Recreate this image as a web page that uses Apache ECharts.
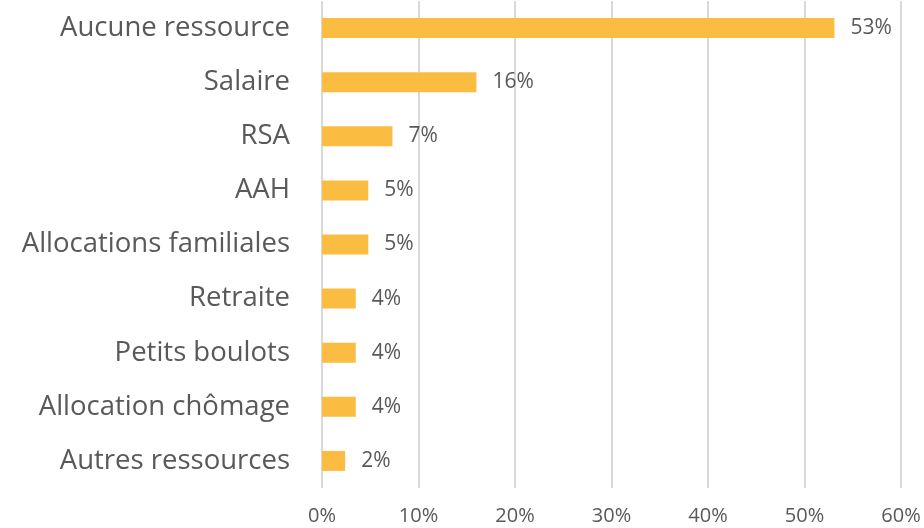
<!DOCTYPE html>
<html>
<head>
<meta charset="utf-8">
<script src="https://cdn.jsdelivr.net/npm/echarts@6/dist/echarts.min.js"></script>
<style>html,body{margin:0;padding:0;background:#fff;}#c{width:924px;height:528px;}</style>
</head>
<body>
<div id="c"></div>
<script>
var categories = ["Aucune ressource","Salaire","RSA","AAH","Allocations familiales","Retraite","Petits boulots","Allocation chômage","Autres ressources"];
var values = [53.1, 16.0, 7.3, 4.8, 4.8, 3.5, 3.5, 3.5, 2.4];
var tickLabels = ["0%","10%","20%","30%","40%","50%","60%"];

var chart = echarts.init(document.getElementById('c'));
chart.setOption({
  animation: false,
  grid: {left: 322, right: 23, top: 1, bottom: 40, containLabel: false},
  xAxis: {
    type: 'value', min: 0, max: 60, interval: 10,
    axisLine: {show: false}, axisTick: {show: false},
    splitLine: {lineStyle: {color: '#d9d9d9', width: 2}},
    axisLabel: {margin: 18, color: '#595959', fontSize: 20, fontFamily: 'Open Sans',
      formatter: function(v){ return tickLabels[Math.round(v/10)]; }}
  },
  yAxis: {
    type: 'category', data: categories, inverse: true,
    axisLine: {show: false}, axisTick: {show: false},
    axisLabel: {margin: 32, color: '#595959', fontSize: 27.5, fontFamily: 'Open Sans'}
  },
  series: [{
    type: 'bar', data: values, barCategoryGap: '63%',
    itemStyle: {color: '#FABD42'},
    label: {show: true, position: 'right', distance: 16, color: '#595959', fontSize: 21, fontFamily: 'Open Sans',
      formatter: function(p){ return Math.round(p.value) + '%'; }}
  }]
});
</script>
</body>
</html>
